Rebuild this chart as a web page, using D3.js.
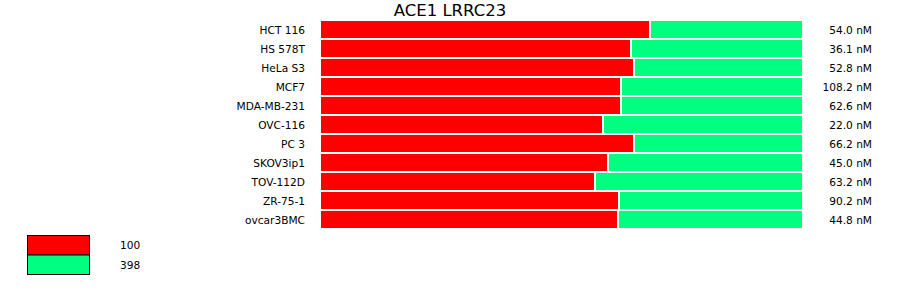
<!DOCTYPE html>
<html>
<head>
<meta charset="utf-8">
<script src="https://cdn.jsdelivr.net/npm/d3@7"></script>
<style>
  body { margin: 0; background: #fff; }
  text { font-family: 'DejaVu Sans', sans-serif; fill: #000; }
</style>
</head>
<body>
<div id="chart"></div>
<script>
const title = 'ACE1 LRRC23'
const cellLines = ['HCT 116', 'HS 578T', 'HeLa S3', 'MCF7', 'MDA-MB-231', 'OVC-116', 'PC 3', 'SKOV3ip1', 'TOV-112D', 'ZR-75-1', 'ovcar3BMC']
// share (%) of each bar for the two series
const redShare = [68.3, 64.4, 65.0, 62.3, 62.3, 58.6, 65.0, 59.6, 56.9, 61.9, 61.7]
const greenShare = redShare.map(v => 100 - v)
const concLabels = ['54.0 nM', '36.1 nM', '52.8 nM', '108.2 nM', '62.6 nM', '22.0 nM', '66.2 nM', '45.0 nM', '63.2 nM', '90.2 nM', '44.8 nM']
const seriesKeys = ['100', '398']
const seriesColors = ['#ff0000', '#00ff80']

const width = 900
const height = 299

const svg = d3.select('#chart')
  .append('svg')
  .attr('width', width)
  .attr('height', height)

const rows = cellLines.map((name, i) => ({
  name,
  '100': redShare[i],
  '398': greenShare[i],
  conc: concLabels[i],
}))

const xScale = d3.scaleLinear().domain([0, 100]).range([320, 803])
const yScale = d3.scaleBand().domain(cellLines).range([20, 20 + 19 * cellLines.length])
const colorScale = d3.scaleOrdinal(seriesColors).domain(seriesKeys)

const stacked = d3.stack().keys(seriesKeys)(rows)

svg.append('text')
  .attr('x', 450)
  .attr('y', 16)
  .attr('text-anchor', 'middle')
  .attr('font-family', "'Liberation Sans', Arial, sans-serif")
  .attr('font-size', 16.5)
  .text(title)

svg.selectAll('g.series')
  .data(stacked)
  .join('g')
  .attr('class', 'series')
  .attr('fill', d => colorScale(d.key))
  .selectAll('rect')
  .data(d => d)
  .join('rect')
  .attr('x', d => Math.round(xScale(d[0])) + 1)
  .attr('y', d => yScale(d.data.name) + 1)
  .attr('width', d => Math.round(xScale(d[1])) - Math.round(xScale(d[0])) - 2)
  .attr('height', yScale.bandwidth() - 2)

svg.selectAll('text.name')
  .data(rows)
  .join('text')
  .attr('class', 'name')
  .attr('x', 305)
  .attr('y', d => yScale(d.name) + yScale.bandwidth() / 2)
  .attr('dy', '0.38em')
  .attr('text-anchor', 'end')
  .attr('font-size', 10.6)
  .text(d => d.name)

svg.selectAll('text.conc')
  .data(rows)
  .join('text')
  .attr('class', 'conc')
  .attr('x', 872)
  .attr('y', d => yScale(d.name) + yScale.bandwidth() / 2)
  .attr('dy', '0.38em')
  .attr('text-anchor', 'end')
  .attr('font-size', 10.6)
  .text(d => d.conc)

// legend
const legend = svg.append('g')
const legendY = d3.scaleBand().domain(seriesKeys).range([235.5, 274.5])

legend.selectAll('rect')
  .data(seriesKeys)
  .join('rect')
  .attr('x', 27.5)
  .attr('y', d => legendY(d))
  .attr('width', 62)
  .attr('height', legendY.bandwidth())
  .attr('fill', d => colorScale(d))
  .attr('stroke', '#000')
  .attr('stroke-width', 1)

legend.selectAll('text')
  .data(seriesKeys)
  .join('text')
  .attr('x', 120)
  .attr('y', d => legendY(d) + legendY.bandwidth() / 2)
  .attr('dy', '0.38em')
  .attr('font-size', 10.6)
  .text(d => d)
</script>
</body>
</html>
